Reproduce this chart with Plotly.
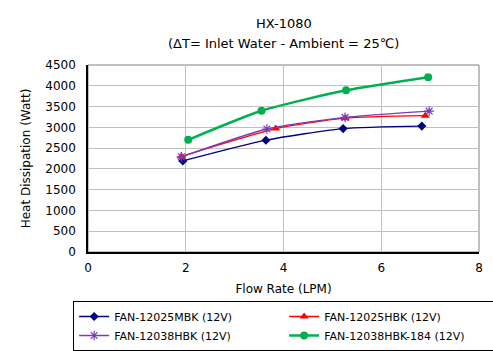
import plotly.graph_objects as go

flow_mbk = [1.94, 3.64, 5.22, 6.83]
heat_mbk = [2190, 2690, 2970, 3030]
flow_hbk = [1.91, 3.84, 5.26, 6.90]
heat_hbk = [2300, 2970, 3220, 3280]
flow_38 = [1.91, 3.66, 5.26, 6.98]
heat_38 = [2290, 2960, 3240, 3390]
flow_184 = [2.05, 3.55, 5.28, 6.96]
heat_184 = [2700, 3400, 3890, 4205]

names = ["FAN-12025MBK (12V)", "FAN-12025HBK (12V)", "FAN-12038HBK (12V)", "FAN-12038HBK-184 (12V)"]
title_lines = ["HX-1080", "(ΔT= Inlet Water - Ambient = 25℃)"]

FONT = "DejaVu Sans"

fig = go.Figure()
fig.add_trace(go.Scatter(x=flow_mbk, y=heat_mbk, name=names[0], mode="lines+markers",
                         line=dict(color="#000080", width=1.3, shape="spline", smoothing=0.6),
                         marker=dict(symbol="diamond", size=7, color="#000080")))
fig.add_trace(go.Scatter(x=flow_hbk, y=heat_hbk, name=names[1], mode="lines+markers",
                         line=dict(color="#ff0000", width=1.3, shape="spline", smoothing=0.6),
                         marker=dict(symbol="triangle-up", size=8, color="#ff0000")))
fig.add_trace(go.Scatter(x=flow_38, y=heat_38, name=names[2], mode="lines+markers",
                         line=dict(color="#7a3cb4", width=1.3, shape="spline", smoothing=0.6),
                         marker=dict(symbol="asterisk-open", size=8, line=dict(color="#7a3cb4", width=1.2))))
fig.add_trace(go.Scatter(x=flow_184, y=heat_184, name=names[3], mode="lines+markers",
                         line=dict(color="#00b050", width=2.5, shape="spline", smoothing=0.6),
                         marker=dict(symbol="circle", size=8, color="#00b050")))

fig.update_layout(
    width=493, height=351,
    margin=dict(l=88, r=14, t=65, b=99, autoexpand=False),
    paper_bgcolor="white", plot_bgcolor="white",
    font=dict(family=FONT, size=12, color="black"),
    xaxis=dict(range=[0, 8], dtick=2, showgrid=True, gridcolor="#c0c0c0", gridwidth=1,
               showline=True, linecolor="black", linewidth=1.5, zeroline=False,
               ticks="", ticklen=0, ticklabelstandoff=4,
               title=dict(text="Flow Rate (LPM)", standoff=10, font=dict(size=12))),
    yaxis=dict(range=[0, 4500], dtick=500, showgrid=True, gridcolor="#c0c0c0", gridwidth=1,
               showline=True, linecolor="black", linewidth=1.5, zeroline=False,
               ticks="", ticklen=0, ticklabelstandoff=8,
               title=dict(text="Heat Dissipation (Watt)", standoff=12, font=dict(size=12))),
    legend=dict(orientation="h", x=-0.038, xanchor="left", y=-0.262, yanchor="top",
                bordercolor="black", borderwidth=1, entrywidth=165, entrywidthmode="pixels",
                font=dict(size=11), tracegroupgap=0, itemwidth=30),
    shapes=[dict(type="rect", xref="paper", yref="paper", x0=0, y0=0, x1=1, y1=1,
                 line=dict(color="#808080", width=1), layer="below")],
    annotations=[
        dict(text=title_lines[0], xref="paper", yref="paper", x=0.5, y=1, yshift=42,
             showarrow=False, yanchor="middle", font=dict(size=13)),
        dict(text=title_lines[1], xref="paper", yref="paper", x=0.5, y=1, yshift=22,
             showarrow=False, yanchor="middle", font=dict(size=13)),
    ],
)

fig.write_html("out.html")
